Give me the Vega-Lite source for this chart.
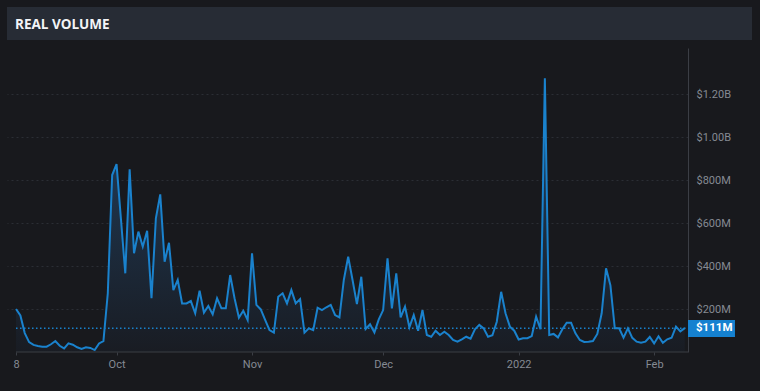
{
  "$schema": "https://vega.github.io/schema/vega-lite/v6.json",
  "background": "#18191d",
  "padding": {"left": 7, "top": 7, "right": 8, "bottom": 22},
  "spacing": 8,
  "config": {"view": {"stroke": null}},
  "datasets": {
    "vol": [
      {"date": "2021-09-08", "v": 200}, {"date": "2021-09-09", "v": 170}, {"date": "2021-09-10", "v": 88}, {"date": "2021-09-11", "v": 46},
      {"date": "2021-09-12", "v": 33}, {"date": "2021-09-13", "v": 28}, {"date": "2021-09-14", "v": 25}, {"date": "2021-09-15", "v": 25},
      {"date": "2021-09-16", "v": 36}, {"date": "2021-09-17", "v": 51}, {"date": "2021-09-18", "v": 29}, {"date": "2021-09-19", "v": 17},
      {"date": "2021-09-20", "v": 40}, {"date": "2021-09-21", "v": 34}, {"date": "2021-09-22", "v": 22}, {"date": "2021-09-23", "v": 14},
      {"date": "2021-09-24", "v": 22}, {"date": "2021-09-25", "v": 19}, {"date": "2021-09-26", "v": 9}, {"date": "2021-09-27", "v": 40},
      {"date": "2021-09-28", "v": 51}, {"date": "2021-09-29", "v": 273}, {"date": "2021-09-30", "v": 823},
      {"date": "2021-10-01", "v": 874}, {"date": "2021-10-02", "v": 620}, {"date": "2021-10-03", "v": 366}, {"date": "2021-10-04", "v": 850},
      {"date": "2021-10-05", "v": 459}, {"date": "2021-10-06", "v": 560}, {"date": "2021-10-07", "v": 490}, {"date": "2021-10-08", "v": 564},
      {"date": "2021-10-09", "v": 250}, {"date": "2021-10-10", "v": 622}, {"date": "2021-10-11", "v": 733}, {"date": "2021-10-12", "v": 420},
      {"date": "2021-10-13", "v": 508}, {"date": "2021-10-14", "v": 288}, {"date": "2021-10-15", "v": 335}, {"date": "2021-10-16", "v": 226},
      {"date": "2021-10-17", "v": 226}, {"date": "2021-10-18", "v": 237}, {"date": "2021-10-19", "v": 180}, {"date": "2021-10-20", "v": 285},
      {"date": "2021-10-21", "v": 183}, {"date": "2021-10-22", "v": 214}, {"date": "2021-10-23", "v": 175}, {"date": "2021-10-24", "v": 250},
      {"date": "2021-10-25", "v": 203}, {"date": "2021-10-26", "v": 203}, {"date": "2021-10-27", "v": 358}, {"date": "2021-10-28", "v": 250},
      {"date": "2021-10-29", "v": 160}, {"date": "2021-10-30", "v": 192}, {"date": "2021-10-31", "v": 149},
      {"date": "2021-11-01", "v": 459}, {"date": "2021-11-02", "v": 219}, {"date": "2021-11-03", "v": 198}, {"date": "2021-11-04", "v": 149},
      {"date": "2021-11-05", "v": 102}, {"date": "2021-11-06", "v": 90}, {"date": "2021-11-07", "v": 257}, {"date": "2021-11-08", "v": 273},
      {"date": "2021-11-09", "v": 226}, {"date": "2021-11-10", "v": 288}, {"date": "2021-11-11", "v": 226}, {"date": "2021-11-12", "v": 246},
      {"date": "2021-11-13", "v": 90}, {"date": "2021-11-14", "v": 110}, {"date": "2021-11-15", "v": 102}, {"date": "2021-11-16", "v": 206},
      {"date": "2021-11-17", "v": 195}, {"date": "2021-11-18", "v": 208}, {"date": "2021-11-19", "v": 219}, {"date": "2021-11-20", "v": 172},
      {"date": "2021-11-21", "v": 161}, {"date": "2021-11-22", "v": 335}, {"date": "2021-11-23", "v": 443}, {"date": "2021-11-24", "v": 335},
      {"date": "2021-11-25", "v": 223}, {"date": "2021-11-26", "v": 350}, {"date": "2021-11-27", "v": 107}, {"date": "2021-11-28", "v": 129},
      {"date": "2021-11-29", "v": 91}, {"date": "2021-11-30", "v": 152},
      {"date": "2021-12-01", "v": 195}, {"date": "2021-12-02", "v": 436}, {"date": "2021-12-03", "v": 203}, {"date": "2021-12-04", "v": 366},
      {"date": "2021-12-05", "v": 161}, {"date": "2021-12-06", "v": 211}, {"date": "2021-12-07", "v": 115}, {"date": "2021-12-08", "v": 172},
      {"date": "2021-12-09", "v": 99}, {"date": "2021-12-10", "v": 195}, {"date": "2021-12-11", "v": 79}, {"date": "2021-12-12", "v": 71},
      {"date": "2021-12-13", "v": 99}, {"date": "2021-12-14", "v": 79}, {"date": "2021-12-15", "v": 94}, {"date": "2021-12-16", "v": 79},
      {"date": "2021-12-17", "v": 56}, {"date": "2021-12-18", "v": 48}, {"date": "2021-12-19", "v": 59}, {"date": "2021-12-20", "v": 71},
      {"date": "2021-12-21", "v": 62}, {"date": "2021-12-22", "v": 106}, {"date": "2021-12-23", "v": 126}, {"date": "2021-12-24", "v": 110},
      {"date": "2021-12-25", "v": 71}, {"date": "2021-12-26", "v": 78}, {"date": "2021-12-27", "v": 141}, {"date": "2021-12-28", "v": 280},
      {"date": "2021-12-29", "v": 180}, {"date": "2021-12-30", "v": 118}, {"date": "2021-12-31", "v": 99},
      {"date": "2022-01-01", "v": 58}, {"date": "2022-01-02", "v": 64}, {"date": "2022-01-03", "v": 64}, {"date": "2022-01-04", "v": 74},
      {"date": "2022-01-05", "v": 164}, {"date": "2022-01-06", "v": 106}, {"date": "2022-01-07", "v": 1273}, {"date": "2022-01-08", "v": 79},
      {"date": "2022-01-09", "v": 84}, {"date": "2022-01-10", "v": 68}, {"date": "2022-01-11", "v": 106}, {"date": "2022-01-12", "v": 136},
      {"date": "2022-01-13", "v": 136}, {"date": "2022-01-14", "v": 87}, {"date": "2022-01-15", "v": 56}, {"date": "2022-01-16", "v": 47},
      {"date": "2022-01-17", "v": 48}, {"date": "2022-01-18", "v": 51}, {"date": "2022-01-19", "v": 84}, {"date": "2022-01-20", "v": 180},
      {"date": "2022-01-21", "v": 389}, {"date": "2022-01-22", "v": 310}, {"date": "2022-01-23", "v": 110}, {"date": "2022-01-24", "v": 110},
      {"date": "2022-01-25", "v": 67}, {"date": "2022-01-26", "v": 110}, {"date": "2022-01-27", "v": 66}, {"date": "2022-01-28", "v": 48},
      {"date": "2022-01-29", "v": 43}, {"date": "2022-01-30", "v": 48}, {"date": "2022-01-31", "v": 70},
      {"date": "2022-02-01", "v": 40}, {"date": "2022-02-02", "v": 73}, {"date": "2022-02-03", "v": 43}, {"date": "2022-02-04", "v": 59},
      {"date": "2022-02-05", "v": 66}, {"date": "2022-02-06", "v": 118}, {"date": "2022-02-07", "v": 96}, {"date": "2022-02-08", "v": 111}
    ]
  },
  "vconcat": [
    {
      "width": 745,
      "height": 33,
      "view": {"fill": "#272c35", "stroke": null},
      "title": {
        "text": "REAL VOLUME",
        "anchor": "start",
        "frame": "group",
        "orient": "top",
        "offset": -35,
        "dx": 8,
        "baseline": "alphabetic",
        "color": "#f2f4f7",
        "font": "Open Sans",
        "fontSize": 13.5,
        "fontWeight": "bold"
      },
      "data": {"values": [{}]},
      "mark": {"type": "point", "opacity": 0},
      "encoding": {}
    },
    {
      "width": 681,
      "height": 304,
      "view": {"fill": "#18191d", "stroke": null},
      "layer": [
        {
          "data": {"name": "vol"},
          "mark": {
            "type": "area",
            "fill": {
              "gradient": "linear",
              "x1": 1, "y1": 1, "x2": 1, "y2": 0,
              "stops": [
                {"offset": 0, "color": "#191c23"},
                {"offset": 1, "color": "#214263"}
              ]
            }
          },
          "encoding": {
            "x": {
              "field": "date",
              "type": "temporal",
              "scale": {
                "type": "utc",
                "domain": [
                  {"year": 2021, "month": 9, "date": 5, "hours": 22, "minutes": 30, "utc": true},
                  {"year": 2022, "month": 2, "date": 8, "hours": 18, "utc": true}
                ]
              },
              "axis": {
                "title": null,
                "domain": false,
                "grid": false,
                "ticks": true,
                "tickSize": 3,
                "tickColor": "#3b3e45",
                "labelPadding": 3,
                "labelColor": "#858a93",
                "labelFont": "Roboto",
                "labelFontSize": 11,
                "values": [
                  {"year": 2021, "month": 9, "date": 8, "utc": true},
                  {"year": 2021, "month": 10, "date": 1, "utc": true},
                  {"year": 2021, "month": 11, "date": 1, "utc": true},
                  {"year": 2021, "month": 12, "date": 1, "utc": true},
                  {"year": 2022, "month": 1, "date": 1, "utc": true},
                  {"year": 2022, "month": 2, "date": 1, "utc": true}
                ],
                "labelExpr": "utcdate(datum.value) == 1 ? (utcmonth(datum.value) == 0 ? utcFormat(datum.value, '%Y') : utcFormat(datum.value, '%b')) : utcFormat(datum.value, '%-d')"
              }
            },
            "y": {
              "field": "v",
              "type": "quantitative",
              "scale": {"domain": [0, 1414], "nice": false, "zero": true},
              "axis": {
                "title": null,
                "orient": "right",
                "domain": true,
                "domainColor": "#3b3e45",
                "ticks": false,
                "grid": true,
                "gridColor": "#2b2e35",
                "gridDash": [2, 3],
                "labelPadding": 8,
                "labelColor": "#858a93",
                "labelFont": "Roboto",
                "labelFontSize": 11,
                "values": [200, 400, 600, 800, 1000, 1200],
                "labelExpr": "datum.value >= 1000 ? '$' + format(datum.value / 1000, '.2f') + 'B' : '$' + format(datum.value, 'd') + 'M'"
              }
            }
          }
        },
        {
          "data": {"name": "vol"},
          "mark": {"type": "line", "color": "#1a82cd", "strokeWidth": 2},
          "encoding": {
            "x": {"field": "date", "type": "temporal"},
            "y": {"field": "v", "type": "quantitative"}
          }
        },
        {
          "data": {"values": [{}]},
          "mark": {"type": "rule", "color": "#3b3e45", "strokeWidth": 1},
          "encoding": {
            "x": {"datum": {"year": 2021, "month": 9, "date": 8, "utc": true}, "type": "temporal"},
            "x2": {"datum": {"year": 2022, "month": 2, "date": 8, "hours": 18, "utc": true}},
            "y": {"datum": 0, "type": "quantitative"}
          }
        },
        {
          "data": {"values": [{}]},
          "mark": {"type": "rule", "color": "#1a82cd", "strokeWidth": 1.5, "strokeDash": [1.5, 2.5]},
          "encoding": {
            "x": {"datum": {"year": 2021, "month": 9, "date": 8, "utc": true}, "type": "temporal"},
            "x2": {"datum": {"year": 2022, "month": 2, "date": 8, "hours": 18, "utc": true}},
            "y": {"datum": 111, "type": "quantitative"}
          }
        },
        {
          "data": {"values": [{"label": "$111M"}]},
          "mark": {"type": "rect", "color": "#1581d0", "clip": false},
          "encoding": {
            "x": {"datum": {"year": 2022, "month": 2, "date": 8, "hours": 18, "utc": true}, "type": "temporal"},
            "x2": {"datum": {"year": 2022, "month": 2, "date": 19, "hours": 12, "utc": true}},
            "y": {"datum": 70, "type": "quantitative"},
            "y2": {"datum": 149}
          }
        },
        {
          "data": {"values": [{"label": "$111M"}]},
          "mark": {"type": "text", "align": "left", "baseline": "middle", "dx": 8, "color": "#ffffff", "font": "Roboto", "fontSize": 11.5, "fontWeight": "bold"},
          "encoding": {
            "x": {"datum": {"year": 2022, "month": 2, "date": 8, "hours": 18, "utc": true}, "type": "temporal"},
            "y": {"datum": 111, "type": "quantitative"},
            "text": {"field": "label"}
          }
        }
      ]
    }
  ]
}
